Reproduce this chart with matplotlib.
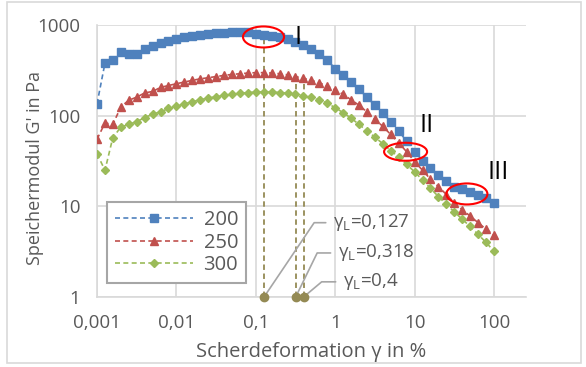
import matplotlib
matplotlib.use('Agg')
import matplotlib.pyplot as plt
from matplotlib.patches import Ellipse, Rectangle
from matplotlib.transforms import ScaledTranslation

# Scherdeformation in % (Messpunkte)
strain = [
    0.001, 0.00126, 0.00158, 0.002, 0.00251, 0.00316, 0.00398, 0.00501, 0.00631, 0.00794,
    0.01, 0.0126, 0.0158, 0.02, 0.0251, 0.0316, 0.0398, 0.0501, 0.0631, 0.0794,
    0.1, 0.126, 0.158, 0.2, 0.251, 0.316, 0.398, 0.501, 0.631, 0.794,
    1, 1.26, 1.58, 2, 2.51, 3.16, 3.98, 5.01, 6.31, 7.94,
    10, 12.6, 15.8, 20, 25.1, 31.6, 39.8, 50.1, 63.1, 79.4,
    100]

g_200 = [
    135, 380, 410, 500, 480, 480, 550, 580, 630, 660,
    700, 730, 760, 785, 805, 815, 825, 835, 840, 830,
    800, 780, 760, 730, 700, 650, 600, 545, 480, 410,
    330, 280, 235, 195, 160, 130, 106, 86, 68, 52,
    40, 32, 26.5, 22, 19, 16.5, 15.5, 14.5, 13.5, 12.3,
    11]

g_250 = [
    55, 83, 80, 125, 148, 160, 178, 185, 205, 215,
    225, 235, 245, 255, 262, 270, 278, 285, 290, 295,
    298, 298, 295, 290, 282, 270, 258, 245, 230, 212,
    192, 172, 150, 130, 110, 92, 76, 62, 50, 40,
    31, 25, 20, 16.5, 13.5, 11, 9.2, 7.8, 6.6, 5.6,
    4.8]

g_300 = [
    38, 25, 57, 75, 80, 86, 95, 104, 110, 120,
    127, 135, 142, 150, 156, 162, 167, 172, 176, 180,
    182, 183, 182, 180, 177, 172, 166, 160, 150, 138,
    122, 108, 94, 80, 68, 58, 49, 41, 35, 29,
    24, 19.5, 15.8, 12.8, 10.5, 8.7, 7.2, 6.0, 4.9, 4.0,
    3.2]

series_labels = ['200', '250', '300']

# Fliessgrenzen
yield_strain = [0.127, 0.318, 0.4]
yield_top = [780, 270, 258]
yield_text = ['γ$_\\mathregular{L}$=0,127', 'γ$_\\mathregular{L}$=0,318', 'γ$_\\mathregular{L}$=0,4']
yield_text_pos = [(0.93, 6.6), (1.07, 3.06), (1.24, 1.47)]
yield_angle = [56, 64, 40]

# Bereiche I, II, III
region_labels = ['I', 'II', 'III']
region_pos = [(0.345, 719), (14.3, 77), (112, 23.9)]
ellipse_pos = [(0.125, 738), (7.7, 40), (45.6, 13.7)]
ellipse_size = [(0.41, 0.21), (0.43, 0.18), (0.41, 0.21)]

xticks = [0.001, 0.01, 0.1, 1, 10, 100]
xtick_labels = ['0,001', '0,01', '0,1', '1', '10', '100']
yticks = [1, 10, 100, 1000]
ytick_labels = ['1', '10', '100', '1000']

plt.rcParams['font.family'] = ['Open Sans', 'DejaVu Sans']
plt.rcParams['mathtext.fontset'] = 'dejavusans'
grey_text = '#595959'

fig = plt.figure(figsize=(5.86, 3.67), dpi=100)
ax = fig.add_axes([97 / 586, 1 - 297 / 367, 429 / 586, 272 / 367])

ax.plot(strain, g_200, ls='--', dashes=(3, 2), lw=1.2, color='#4F81BD',
        marker='s', ms=5.2, mec='#4F81BD', label=series_labels[0], zorder=3)
ax.plot(strain, g_250, ls='--', dashes=(3, 2), lw=1.2, color='#C0504D',
        marker='^', ms=6, mec='#C0504D', label=series_labels[1], zorder=3)
ax.plot(strain, g_300, ls='--', dashes=(3, 2), lw=1.2, color='#9BBB59',
        marker='D', ms=4.2, mec='#9BBB59', label=series_labels[2], zorder=3)

for xs, top in zip(yield_strain, yield_top):
    ax.plot([xs, xs], [1, top], ls='--', dashes=(3, 2), lw=1.3, color='#948A54', zorder=2)
    ax.plot([xs], [1], marker='o', ms=6, color='#948A54', clip_on=False, zorder=4)

for xs, txt, pos, ang in zip(yield_strain, yield_text, yield_text_pos, yield_angle):
    ax.annotate(txt, xy=(xs, 1), xytext=pos, textcoords='data', ha='left', va='center',
                fontsize=13.5, color=grey_text,
                arrowprops=dict(arrowstyle='-', color='#A6A6A6', lw=1.2,
                                connectionstyle='angle,angleA=0,angleB=%d,rad=0' % ang,
                                relpos=(0, 0.5), shrinkA=3, shrinkB=0))

for lab, pos in zip(region_labels, region_pos):
    ax.text(pos[0], pos[1], lab, fontsize=18, color='black', ha='center', va='center')

for pos, size in zip(ellipse_pos, ellipse_size):
    tr = fig.dpi_scale_trans + ScaledTranslation(pos[0], pos[1], ax.transData)
    ax.add_patch(Ellipse((0, 0), size[0], size[1], transform=tr, fill=False,
                         ec='#FF0000', lw=1.5, zorder=5))

ax.set_xscale('log')
ax.set_yscale('log')
ax.set_xlim(0.001, 253)
ax.set_ylim(1, 1000)
ax.set_xticks(xticks)
ax.set_xticklabels(xtick_labels)
ax.set_yticks(yticks)
ax.set_yticklabels(ytick_labels)
ax.minorticks_off()
ax.tick_params(length=0, pad=12, labelsize=13.5, labelcolor=grey_text)
ax.grid(True, color='#D9D9D9', lw=1.2)
ax.set_axisbelow(True)
for side in ['top', 'right']:
    ax.spines[side].set_visible(False)
for side in ['left', 'bottom']:
    ax.spines[side].set_color('#D9D9D9')
    ax.spines[side].set_linewidth(1.2)

ax.set_xlabel('Scherdeformation γ in %', fontsize=14.5, color=grey_text)
ax.set_ylabel("Speichermodul G' in Pa", fontsize=13, color=grey_text)
ax.xaxis.set_label_coords(0.5, -0.202)
ax.xaxis.label.set_va('center')
ax.yaxis.set_label_coords(-0.145, 0.474)
ax.yaxis.label.set_va('center')

leg = ax.legend(loc='lower left', bbox_to_anchor=(0.023, 0.051), fontsize=14.5,
                handlelength=3.9, handletextpad=0.5, borderpad=0.4, labelspacing=0.12,
                fancybox=False, framealpha=1, edgecolor='#A6A6A6', borderaxespad=0)
leg.get_frame().set_linewidth(1.5)
for t in leg.get_texts():
    t.set_color(grey_text)

fig.patches.append(Rectangle((7 / 586, 1 - 363 / 367), 574 / 586, 361 / 367,
                             transform=fig.transFigure, fill=False, ec='#D9D9D9', lw=1.2))

fig.savefig('out.png', dpi=100)
